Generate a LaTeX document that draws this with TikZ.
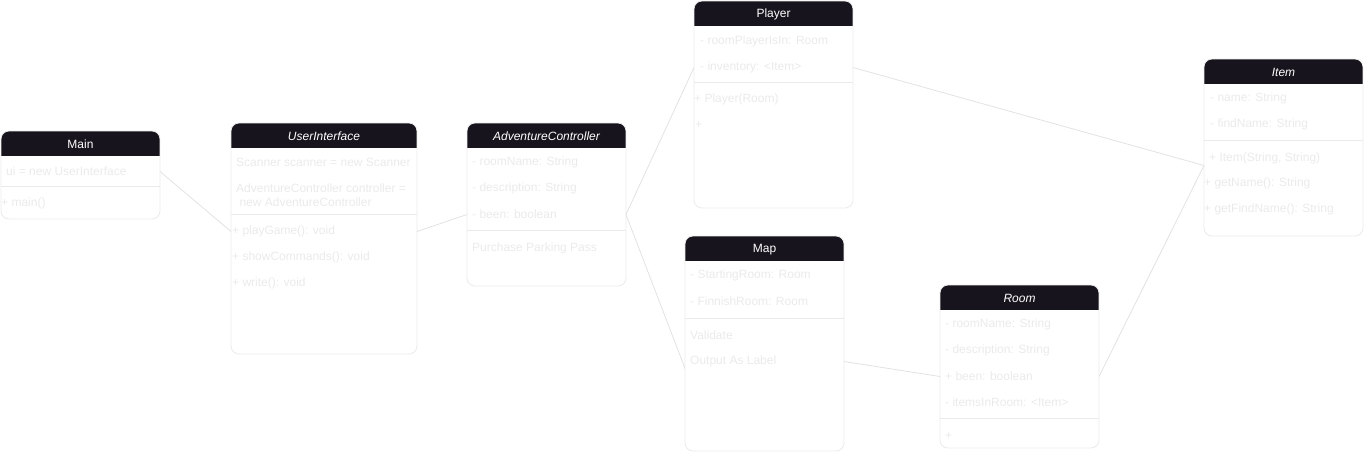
\documentclass[tikz,border=0pt]{standalone}
\usepackage{fontspec}
\setmainfont{Liberation Sans}
\definecolor{hdrcol}{HTML}{18141D}
\definecolor{txtcol}{RGB}{234,234,234}
\definecolor{bordcol}{RGB}{234,234,234}
\definecolor{linecol}{RGB}{226,226,226}
\tikzset{
  box/.style={rectangle, inner sep=0pt, outer sep=0pt},
  hdr/.style={fill=hdrcol},
  boxline/.style={draw=bordcol, line width=0.8pt, rounded corners=8pt},
  sepline/.style={draw=bordcol, line width=0.8pt},
  ttl/.style={text=white, font=\fontsize{12}{14}\selectfont, inner sep=0pt, yshift=-1pt},
  txt/.style={text=txtcol, font=\fontsize{12}{14}\selectfont, anchor=west, inner sep=0pt, yshift=-1.5pt},
  conn/.style={draw=linecol, line width=0.8pt},
}
\newcommand\UMLBox[8]{%
  \node[box, minimum width={#4-#2}, minimum height={#5-#3}] (#1) at ({(#2+#4)/2},{(#3+#5)/2}) {};
  \begin{scope}
    \clip[rounded corners=8pt] (#1.north west) rectangle (#1.south east);
    \fill[hdr] (#1.north west) rectangle ([yshift=-25pt]#1.north east);
  \end{scope}
  \draw[boxline] (#1.north west) rectangle (#1.south east);
  \draw[sepline] (#2,#8) -- (#4,#8);
  \node[ttl,#6] (#1-title) at ([yshift=-12.5pt]#1.north) {#7};
}
\begin{document}
\begin{tikzpicture}[x=1pt,y=-1pt]
\useasboundingbox (0,0) rectangle (1364,452);

% Main
\UMLBox{main}{1}{131}{160}{219}{}{Main}{186}
\node[txt] (main-a1) at (6,170) {ui = new UserInterface};
\node[txt] (main-m1) at (1,202) {+ main()};

% UserInterface
\UMLBox{ui}{231}{123}{417}{354}{font=\fontsize{12}{14}\selectfont\itshape}{UserInterface}{214}
\node[txt] (ui-a1) at (236,161) {Scanner scanner = new Scanner};
\node[txt, align=left] (ui-a2) at (236,194) {AdventureController controller =\\\ new AdventureController};
\node[txt] (ui-m1) at (232,230) {+ playGame(): void};
\node[txt] (ui-m2) at (232,256) {+ showCommands(): void};
\node[txt] (ui-m3) at (232,282) {+ write(): void};

% AdventureController
\UMLBox{ac}{467}{123}{626}{286}{font=\fontsize{12}{14}\selectfont\itshape}{AdventureController}{230}
\node[txt] (ac-a1) at (472,161) {- roomName: String};
\node[txt] (ac-a2) at (472,187) {- description: String};
\node[txt] (ac-a3) at (472,213) {- been: boolean};
\node[txt] (ac-m1) at (472,247) {Purchase Parking Pass};

% Player
\UMLBox{pl}{694}{1}{853}{208}{}{Player}{82}
\node[txt] (pl-a1) at (700,40) {- roomPlayerIsIn: Room};
\node[txt] (pl-a2) at (700,66) {- inventory: <Item>};
\node[txt] (pl-m1) at (694,98) {+ Player(Room)};
\node[txt] (pl-m2) at (695,124) {+};

% Map
\UMLBox{map}{685}{236}{844}{451}{}{Map}{318}
\node[txt] (map-a1) at (690,274) {- StartingRoom: Room};
\node[txt] (map-a2) at (690,300) {- FinnishRoom: Room};
\node[txt] (map-m1) at (690,334) {Validate};
\node[txt] (map-m2) at (690,360) {Output As Label};

% Room
\UMLBox{room}{940}{285}{1099}{448}{font=\fontsize{12}{14}\selectfont\itshape}{Room}{418}
\node[txt] (room-a1) at (945,323) {- roomName: String};
\node[txt] (room-a2) at (945,349) {- description: String};
\node[txt] (room-a3) at (945,375) {+ been: boolean};
\node[txt] (room-a4) at (945,401) {- itemsInRoom: <Item>};
\node[txt] (room-m1) at (945,435) {+};

% Item
\UMLBox{item}{1204}{59}{1363}{236}{font=\fontsize{12}{14}\selectfont\itshape}{Item}{140}
\node[txt] (item-a1) at (1210,97) {- name: String};
\node[txt] (item-a2) at (1210,123) {- findName: String};
\node[txt] (item-m1) at (1209,157) {+ Item(String, String)};
\node[txt] (item-m2) at (1204,182) {+ getName(): String};
\node[txt] (item-m3) at (1204,208) {+ getFindName(): String};

% connectors
\draw[conn] (main.east |- main-a1) -- (ui.west |- ui-m1);
\draw[conn] (ui.east |- ui-m1) -- (ac.west |- ac-a3);
\draw[conn] (ac.east |- ac-a3) -- (pl.west |- pl-a2);
\draw[conn] (ac.east |- ac-a3) -- ([yshift=-7pt]map.west |- map-m2);
\draw[conn] (pl.east |- pl-a2) -- ([yshift=-7pt]item.west |- item-m1);
\draw[conn] (map.east |- map-m2) -- (room.west |- room-a3);
\draw[conn] (room.east |- room-a3) -- ([yshift=-7pt]item.west |- item-m1);
\end{tikzpicture}
\end{document}
